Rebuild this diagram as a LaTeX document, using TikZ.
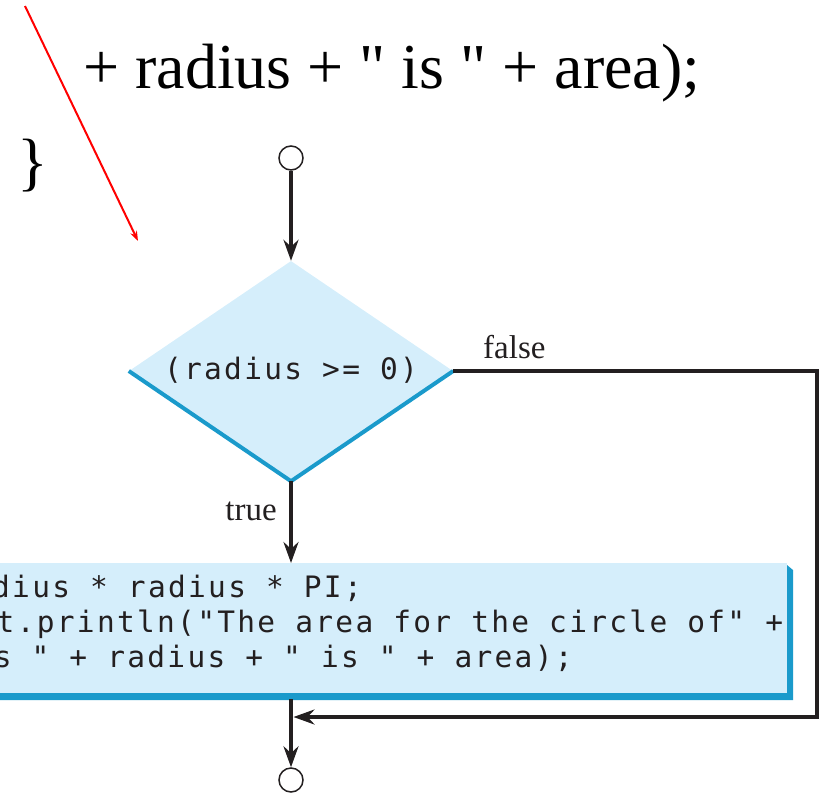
\documentclass[tikz,border=0pt]{standalone}
\usepackage{fontspec}
\setmainfont{Liberation Serif}
\newfontfamily\serifplain{Liberation Serif}
\newfontfamily\codefont{DejaVu Sans Mono}[LetterSpace=7.8]
\usetikzlibrary{arrows.meta,shapes.geometric}
\definecolor{lightblue}{HTML}{D5EEFB}
\definecolor{edgeblue}{HTML}{1A9ACB}
\definecolor{ink}{HTML}{231F20}
\tikzset{
  flow/.style={draw=ink, line width=4.5pt, -{Stealth[length=21pt,width=15pt,inset=7pt]}},
  term/.style={circle, draw=ink, line width=1.5pt, minimum size=24pt, inner sep=0pt, fill=white},
  lbl/.style={font=\fontsize{33}{38}\selectfont, inner sep=0pt, text=ink},
  bigtext/.style={font=\serifplain\fontsize{64}{70}\selectfont, inner sep=0pt, text=black},
  code/.style={font=\codefont\fontsize{29.5}{35}\selectfont, inner sep=0pt, text=ink}
}
\begin{document}
\begin{tikzpicture}[x=1pt,y=-1pt]
\useasboundingbox (0,0) rectangle (825,793);
\clip (0,0) rectangle (825,793);
% top text
\node[bigtext, anchor=base west] (toptext) at (83,88) {+ radius + " is " + area);};
\node[bigtext, anchor=base west] (brace) at (17,183) {\}};
% red arrow
\coordinate (r1) at (25,6);
\coordinate (r2) at (138,241);
\draw[red, line width=2pt, -{Stealth[length=10pt,width=7pt]}] (r1) -- (r2);
% decision
\node[diamond, fill=lightblue, minimum width=324pt, minimum height=220pt, inner sep=0pt] (dec) at (291,371) {};
\draw[edgeblue, line width=4pt] (dec.west) -- (dec.south) -- (dec.east);
\node[code, anchor=base] (dectext) at (291,379) {(radius >= 0)};
% action box
\fill[edgeblue] (787,565) -- (793,570) -- (793,700) -- (-30,700) -- (-30,693) -- (787,693) -- cycle;
\node[fill=lightblue, minimum width=817pt, minimum height=130pt, inner sep=0pt, anchor=north east] (act) at (787,563) {};
\node[code, anchor=base west] (line1) at (-184,597) {area = radius * radius * PI;};
\node[code, anchor=base west] (line2) at (-184,632) {System.out.println("The area for the circle of" +};
\node[code, anchor=base west] (line3) at (-144.5,667) {" radius " + radius + " is " + area);};
% terminals
\node[term] (start) at (291,158) {};
\node[term] (stop) at (291,780) {};
% connectors
\draw[flow] (start) -- (dec.north);
\draw[flow] (dec.south) -- (dec.south |- act.north);
\coordinate (boxout) at (291,699);
\draw[flow] (boxout) -- (stop);
\coordinate (c1) at (817,371);
\coordinate (c2) at (817,717);
\coordinate (merge) at (293.5,717);
\draw[flow] (dec.east) -- (c1) -- (c2) -- (merge);
% labels
\node[lbl, anchor=base west] (falselbl) at (483,358) {false};
\node[lbl, anchor=base east] (truelbl) at (277,520) {true};
\end{tikzpicture}
\end{document}
